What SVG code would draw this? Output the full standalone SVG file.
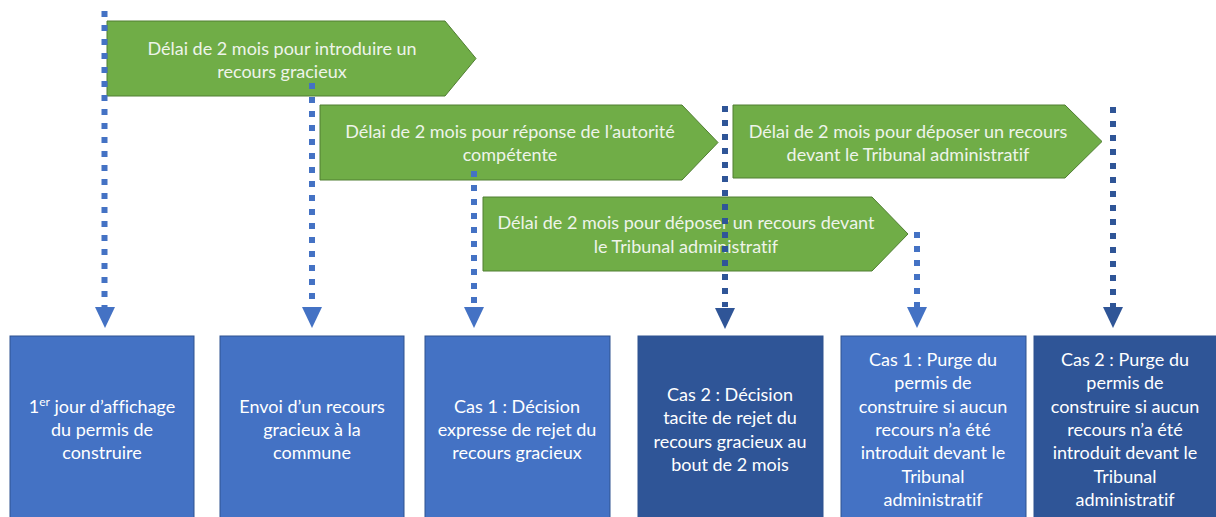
<svg xmlns="http://www.w3.org/2000/svg" width="1216" height="517" viewBox="0 0 1216 517">
<style>
.arr{fill:#70AD47;stroke:#507E32;stroke-width:1}
.bl{fill:#4472C4;stroke:#2F528F;stroke-width:1}
.bd{fill:#2F5597;stroke:#2F528F;stroke-width:1}
.t{font-family:Lato,"Liberation Sans",sans-serif;font-size:18px;text-anchor:middle;font-variant-ligatures:none;font-feature-settings:"liga" 0,"dlig" 0}
.tg{fill:#EEF4EA}
.tb{fill:#FFFFFF}
.dl{stroke:#4472C4;stroke-width:6;stroke-dasharray:6 8;fill:none}
.dd{stroke:#2F5597;stroke-width:6;stroke-dasharray:6 8;fill:none}
.hl{fill:#4472C4}
.hd{fill:#2F5597}
</style>
<rect width="1216" height="517" fill="#FFFFFF"/>
<g id="arrow1">
<polygon class="arr" points="107,21 445,21 476,58.5 445,96 107,96"/>
<text class="t tg" x="282" y="55">Délai de 2 mois pour introduire un</text>
<text class="t tg" x="282" y="78">recours gracieux</text>
</g>
<g id="arrow2">
<polygon class="arr" points="320,105 682,105 718,142.5 682,180 320,180"/>
<text class="t tg" x="510" y="138">Délai de 2 mois pour réponse de l’autorité</text>
<text class="t tg" x="510" y="161">compétente</text>
</g>
<g id="arrow3">
<polygon class="arr" points="733,105 1065,105 1102,141.5 1065,178 733,178"/>
<text class="t tg" x="908" y="138">Délai de 2 mois pour déposer un recours</text>
<text class="t tg" x="908" y="161">devant le Tribunal administratif</text>
</g>
<g id="arrow4">
<polygon class="arr" points="483,197 872,197 908,234 872,271 483,271"/>
<text class="t tg" x="686" y="229">Délai de 2 mois pour déposer un recours devant</text>
<text class="t tg" x="686" y="253">le Tribunal administratif</text>
</g>
<g id="box1">
<rect class="bl" x="10" y="336" width="184" height="190"/>
<text class="t tb" x="102" y="413">1<tspan font-size="12" dy="-7">er</tspan><tspan dy="7"> jour d’affichage</tspan></text>
<text class="t tb" x="102" y="436">du permis de</text>
<text class="t tb" x="102" y="459">construire</text>
</g>
<g id="box2">
<rect class="bl" x="220" y="336" width="184" height="190"/>
<text class="t tb" x="312" y="413">Envoi d’un recours</text>
<text class="t tb" x="312" y="436">gracieux à la</text>
<text class="t tb" x="312" y="459">commune</text>
</g>
<g id="box3">
<rect class="bl" x="425" y="336" width="185" height="190"/>
<text class="t tb" x="517" y="413">Cas 1 : Décision</text>
<text class="t tb" x="517" y="436">expresse de rejet du</text>
<text class="t tb" x="517" y="459">recours gracieux</text>
</g>
<g id="box4">
<rect class="bd" x="638" y="336" width="185" height="190"/>
<text class="t tb" x="730" y="401">Cas 2 : Décision</text>
<text class="t tb" x="730" y="424">tacite de rejet du</text>
<text class="t tb" x="730" y="448">recours gracieux au</text>
<text class="t tb" x="730" y="471">bout de 2 mois</text>
</g>
<g id="box5">
<rect class="bl" x="841" y="336" width="185" height="190"/>
<text class="t tb" x="933" y="366">Cas 1 : Purge du</text>
<text class="t tb" x="933" y="389">permis de</text>
<text class="t tb" x="933" y="413">construire si aucun</text>
<text class="t tb" x="933" y="436">recours n’a été</text>
<text class="t tb" x="933" y="459">introduit devant le</text>
<text class="t tb" x="933" y="483">Tribunal</text>
<text class="t tb" x="933" y="506">administratif</text>
</g>
<g id="box6">
<rect class="bd" x="1034" y="336" width="190" height="190"/>
<text class="t tb" x="1125" y="366">Cas 2 : Purge du</text>
<text class="t tb" x="1125" y="389">permis de</text>
<text class="t tb" x="1125" y="413">construire si aucun</text>
<text class="t tb" x="1125" y="436">recours n’a été</text>
<text class="t tb" x="1125" y="459">introduit devant le</text>
<text class="t tb" x="1125" y="483">Tribunal</text>
<text class="t tb" x="1125" y="506">administratif</text>
</g>
<g id="connectors">
<line class="dl" x1="104.5" y1="11" x2="104.5" y2="307"/>
<polygon class="hl" points="95,307 115,307 105,328"/>
<line class="dl" x1="312" y1="83" x2="312" y2="307"/>
<polygon class="hl" points="302,307 322,307 312,328"/>
<line class="dl" x1="474" y1="171" x2="474" y2="307"/>
<polygon class="hl" points="464,307 484,307 474,328"/>
<line class="dd" x1="725" y1="106" x2="725" y2="307"/>
<polygon class="hd" points="715,308 735,308 725,329"/>
<line class="dl" x1="917" y1="232" x2="917" y2="307"/>
<polygon class="hl" points="907,307 927,307 917,328"/>
<line class="dd" x1="1113" y1="107" x2="1113" y2="307"/>
<polygon class="hd" points="1103,307 1123,307 1113,328"/>
</g>
</svg>
